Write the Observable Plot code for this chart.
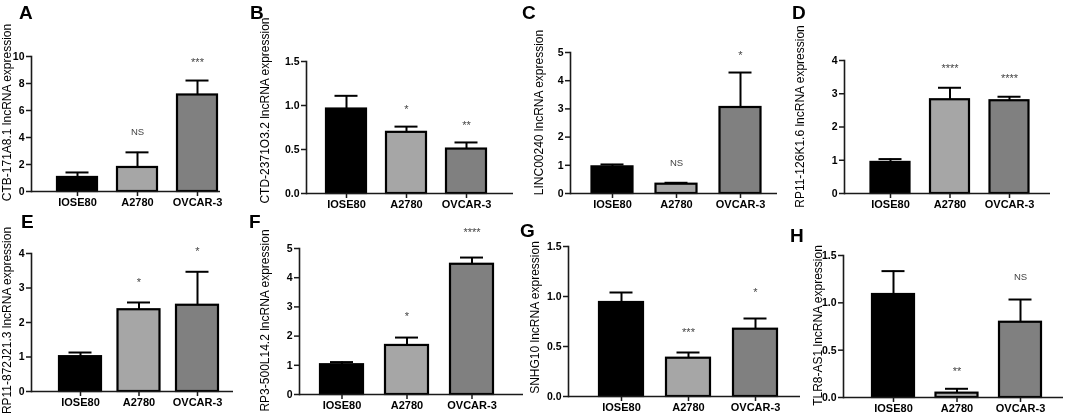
<!DOCTYPE html>
<html>
<head>
<meta charset="utf-8">
<script src="https://cdn.jsdelivr.net/npm/d3@7"></script>
<script src="https://cdn.jsdelivr.net/npm/@observablehq/plot@0.6"></script>
<style>
  body { margin: 0; background: #fff; }
  #wrap { position: relative; width: 1065px; height: 417px; overflow: hidden; background: #fff;
          font-family: Arial, "Liberation Sans", sans-serif; filter: grayscale(1); }
  .panel { position: absolute; }
  .letter { position: absolute; font-weight: bold; font-size: 19px; line-height: 1; color: #000; }
</style>
</head>
<body>
<div id="wrap"></div>
<script>
// ---------- data ----------
const cells = ["IOSE80", "A2780", "OVCAR-3"];
const barColors = ["#000000", "#a6a6a6", "#808080"];
const letters = ["A", "B", "C", "D", "E", "F", "G", "H"];
const genes = ["CTB-171A8.1", "CTD-2371O3.2", "LINC00240", "RP11-126K1.6",
               "RP11-872J21.3", "RP3-500L14.2", "SNHG10", "TLR8-AS1"];

const meanA = [1.04, 1.78, 7.15];  const semA = [0.37, 1.12, 1.07];
const sigA = ["", "NS", "***"];    const sigYA = [null, 4.43, 9.75];
const ticksA = [0, 2, 4, 6, 8, 10];

const meanB = [0.96, 0.695, 0.505]; const semB = [0.15, 0.065, 0.075];
const sigB = ["", "*", "**"];       const sigYB = [null, 0.99, 0.81];
const ticksB = [0, 0.5, 1.0, 1.5];

const meanC = [0.945, 0.33, 3.05];  const semC = [0.085, 0.05, 1.24];
const sigC = ["", "NS", "*"];       const sigYC = [null, 1.1, 5.0];
const ticksC = [0, 1, 2, 3, 4, 5];

const meanD = [0.935, 2.82, 2.79];  const semD = [0.10, 0.36, 0.12];
const sigD = ["", "****", "****"];  const sigYD = [null, 3.85, 3.55];
const ticksD = [0, 1, 2, 3, 4];

const meanE = [1.01, 2.37, 2.50];   const semE = [0.12, 0.21, 0.97];
const sigE = ["", "*", "*"];        const sigYE = [null, 3.26, 4.15];
const ticksE = [0, 1, 2, 3, 4];

const meanF = [1.02, 1.68, 4.46];   const semF = [0.09, 0.27, 0.23];
const sigF = ["", "*", "****"];     const sigYF = [null, 2.77, 5.66];
const ticksF = [0, 1, 2, 3, 4, 5];

const meanG = [0.94, 0.383, 0.673]; const semG = [0.10, 0.057, 0.107];
const sigG = ["", "***", "*"];      const sigYG = [null, 0.67, 1.07];
const ticksG = [0, 0.5, 1.0, 1.5];

const meanH = [1.088, 0.046, 0.795]; const semH = [0.247, 0.046, 0.24];
const sigH = ["", "**", "NS"];       const sigYH = [null, 0.31, 1.27];
const ticksH = [0, 0.5, 1.0, 1.5];

const intFmt = d3.format("d");
const decFmt = d3.format(".1f");
const panels = [
  {mean: meanA, sem: semA, sig: sigA, sigY: sigYA, ticks: ticksA, fmt: intFmt},
  {mean: meanB, sem: semB, sig: sigB, sigY: sigYB, ticks: ticksB, fmt: decFmt},
  {mean: meanC, sem: semC, sig: sigC, sigY: sigYC, ticks: ticksC, fmt: intFmt},
  {mean: meanD, sem: semD, sig: sigD, sigY: sigYD, ticks: ticksD, fmt: intFmt},
  {mean: meanE, sem: semE, sig: sigE, sigY: sigYE, ticks: ticksE, fmt: intFmt},
  {mean: meanF, sem: semF, sig: sigF, sigY: sigYF, ticks: ticksF, fmt: intFmt},
  {mean: meanG, sem: semG, sig: sigG, sigY: sigYG, ticks: ticksG, fmt: decFmt},
  {mean: meanH, sem: semH, sig: sigH, sigY: sigYH, ticks: ticksH, fmt: decFmt}
];

// ---------- layout (pixels in the 1065x417 page) ----------
const layout = [
  {left: 0,   top: 0,   w: 240, h: 215, axisX: 31,  axisEnd: 220,  yTop: 56,  yBot: 191, c0: 77,    step: 60,   barW: 40, titleX: 7,   titleY: 112, lx: 19,  lb: 19},
  {left: 254, top: 0,   w: 265, h: 215, axisX: 306, axisEnd: 513,  yTop: 61,  yBot: 193, c0: 346,   step: 60,   barW: 40, titleX: 265, titleY: 110, lx: 250, lb: 19},
  {left: 528, top: 0,   w: 255, h: 215, axisX: 570, axisEnd: 777,  yTop: 52,  yBot: 193, c0: 612,   step: 64,   barW: 41, titleX: 539, titleY: 112, lx: 522, lb: 19},
  {left: 790, top: 0,   w: 275, h: 215, axisX: 844, axisEnd: 1050, yTop: 60,  yBot: 193, c0: 890,   step: 59.5, barW: 39, titleX: 800, titleY: 116, lx: 792, lb: 19},
  {left: 0,   top: 205, w: 240, h: 212, axisX: 31,  axisEnd: 233,  yTop: 253, yBot: 391, c0: 80,    step: 58.5, barW: 42, titleX: 7,   titleY: 320, lx: 21,  lb: 228},
  {left: 255, top: 205, w: 275, h: 212, axisX: 299, axisEnd: 523,  yTop: 248, yBot: 394, c0: 341.5, step: 65,   barW: 43, titleX: 265, titleY: 320, lx: 249, lb: 228},
  {left: 525, top: 205, w: 280, h: 212, axisX: 568, axisEnd: 800,  yTop: 246, yBot: 396, c0: 621,   step: 67,   barW: 44, titleX: 535, titleY: 317, lx: 520, lb: 237},
  {left: 808, top: 205, w: 257, h: 212, axisX: 843, axisEnd: 1063, yTop: 255, yBot: 397, c0: 893,   step: 63.5, barW: 42, titleX: 818, titleY: 325, lx: 790, lb: 242}
];

const wrap = document.getElementById("wrap");

panels.forEach((p, i) => {
  const L = layout[i];
  const rows = cells.map((c, j) => ({
    cell: c, mean: p.mean[j], top: p.mean[j] + p.sem[j], sig: p.sig[j], sigY: p.sigY[j]
  }));
  const mL = L.axisX - L.left;
  const mR = L.left + L.w - L.axisEnd;
  const mT = L.yTop - L.top;
  const mB = L.top + L.h - L.yBot;
  const pad = 1 - L.barW / L.step;
  const inset = Math.max(0, (L.barW - 23) / 2);
  const frameMid = (mT + (L.h - mB)) / 2;

  const chart = Plot.plot({
    width: L.w, height: L.h,
    marginLeft: mL, marginRight: mR, marginTop: mT, marginBottom: mB,
    style: {fontFamily: "Arial, 'Liberation Sans', sans-serif", fontSize: "11px", fontWeight: "bold",
            color: "#000", background: "transparent", overflow: "visible"},
    x: {domain: cells, range: [L.c0 - L.step / 2 - L.left, L.c0 + 2.5 * L.step - L.left],
        paddingInner: pad, paddingOuter: pad / 2, round: false},
    y: {domain: [0, d3.max(p.ticks)]},
    color: {domain: cells, range: barColors},
    marks: [
      Plot.barY(rows, {x: "cell", y: "mean", fill: "cell", stroke: "#000", strokeWidth: 2.2}),
      Plot.ruleX(rows, {x: "cell", y1: "mean", y2: "top", stroke: "#000", strokeWidth: 2}),
      Plot.tickY(rows, {x: "cell", y: "top", insetLeft: inset, insetRight: inset, stroke: "#000", strokeWidth: 2}),
      Plot.ruleY([0], {stroke: "#1a1a1a", strokeWidth: 1.6}),
      Plot.frame({anchor: "left", stroke: "#1a1a1a", strokeWidth: 1.6}),
      Plot.axisY({ticks: p.ticks, tickFormat: p.fmt, tickSize: 5, tickPadding: 2, fontSize: 10.5,
                  label: null, stroke: "#1a1a1a", strokeWidth: 1.5}),
      Plot.axisX({tickSize: 5, tickPadding: 2, fontSize: 11, label: null, stroke: "#1a1a1a", strokeWidth: 1.5}),
      Plot.text([genes[i] + " lncRNA expression"], {
        frameAnchor: "left", text: d => d, rotate: -90, textAnchor: "middle", lineAnchor: "middle",
        dx: L.titleX - L.axisX, dy: (L.titleY - L.top) - frameMid,
        fontSize: 12, fontWeight: "normal", fill: "#000"
      }),
      Plot.text(rows.filter(d => d.sig === "NS"), {
        x: "cell", y: "sigY", text: "sig", fontSize: 9.5, fontWeight: "normal", fill: "#444"
      }),
      Plot.text(rows.filter(d => d.sig && d.sig !== "NS"), {
        x: "cell", y: "sigY", text: "sig", fontSize: 11, fontWeight: "normal", fill: "#444", dy: 3
      })
    ]
  });
  chart.classList.add("panel");
  chart.style.left = L.left + "px";
  chart.style.top = L.top + "px";
  wrap.appendChild(chart);

  const lab = document.createElement("div");
  lab.className = "letter";
  lab.textContent = letters[i];
  lab.style.left = L.lx + "px";
  lab.style.top = (L.lb - 16) + "px";
  wrap.appendChild(lab);
});
</script>
</body>
</html>
